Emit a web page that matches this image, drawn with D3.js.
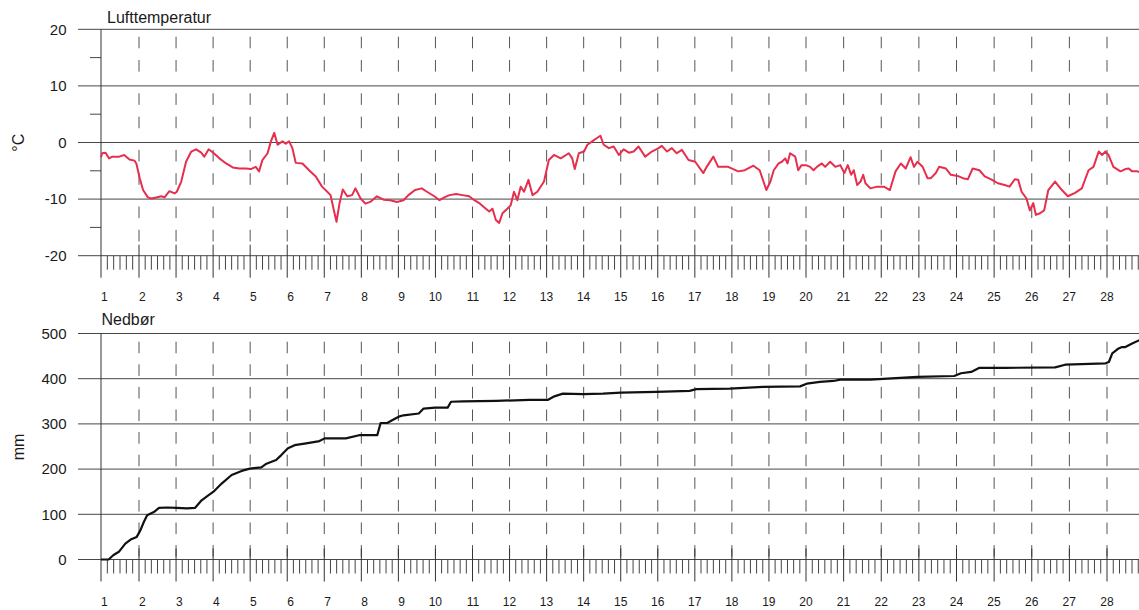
<!DOCTYPE html>
<html>
<head>
<meta charset="utf-8">
<script src="https://cdn.jsdelivr.net/npm/d3@7"></script>
<style>
  html, body { margin: 0; padding: 0; background: #fff; }
  svg { display: block; font-family: "Liberation Sans", Arial, sans-serif; }
</style>
</head>
<body>
<svg id="chart" width="1139" height="610"></svg>
<script>
// ---------- DATA ----------
const dayTicks = [1,2,3,4,5,6,7,8,9,10,11,12,13,14,15,16,17,18,19,20,21,22,23,24,25,26,27,28];
const tempTicks = [-20,-10,0,10,20];
const tempMinorTicks = [-15,-5,5,15];
const precTicks = [0,100,200,300,400,500];

const tempDays = [
  1.00,1.03,1.12,1.21,1.30,1.48,1.61,1.75,1.88,1.93,
  2.02,2.11,2.24,2.33,2.47,2.60,2.69,2.82,2.96,
  3.02,3.14,3.27,3.41,3.54,3.68,3.76,3.88,
  4.02,4.17,4.35,4.53,4.71,4.88,
  5.02,5.15,5.24,5.33,5.47,5.56,5.65,5.74,5.87,5.96,
  6.05,6.14,6.23,6.41,6.59,6.77,6.94,
  7.08,7.17,7.26,7.33,7.41,7.50,7.62,7.75,7.84,7.98,
  8.11,8.24,8.42,8.60,8.78,8.96,
  9.14,9.27,9.45,9.63,9.77,9.97,
  10.11,10.24,10.38,10.56,10.73,10.91,
  11.05,11.18,11.32,11.45,11.54,11.63,11.72,11.81,11.94,
  12.03,12.12,12.21,12.30,12.39,12.51,12.62,12.75,12.93,
  13.06,13.20,13.38,13.60,13.69,13.76,13.87,
  14.01,14.10,14.23,14.36,14.45,14.54,14.68,14.81,14.95,
  15.08,15.22,15.35,15.48,15.66,15.84,
  16.02,16.11,16.25,16.38,16.51,16.65,16.83,
  17.01,17.23,17.32,17.50,17.63,17.90,
  18.17,18.35,18.58,18.75,18.93,
  19.04,19.13,19.26,19.35,19.44,19.50,19.57,19.71,19.79,19.88,
  20.00,20.11,20.20,20.29,20.42,20.51,20.64,20.78,20.91,
  21.02,21.11,21.20,21.27,21.36,21.45,21.52,21.58,21.71,21.89,
  22.07,22.23,22.38,22.52,22.65,22.78,22.87,22.96,
  23.10,23.23,23.32,23.45,23.54,23.72,23.85,
  24.03,24.17,24.30,24.43,24.61,24.75,24.92,
  25.10,25.28,25.41,25.55,25.64,25.73,25.86,25.95,
  26.04,26.11,26.22,26.33,26.44,26.62,26.80,26.96,
  27.15,27.33,27.51,27.64,27.78,27.87,27.96,
  28.04,28.17,28.36,28.49,28.58,28.67,28.81,28.91
];
const tempValues = [
  -2.6,-1.9,-1.8,-2.8,-2.5,-2.5,-2.2,-3.0,-3.2,-3.7,
  -6.3,-8.4,-9.7,-9.9,-9.7,-9.5,-9.7,-8.6,-9.0,
  -8.7,-6.9,-3.4,-1.6,-1.2,-1.8,-2.5,-1.2,
  -1.9,-2.8,-3.7,-4.4,-4.6,-4.6,
  -4.7,-4.3,-5.1,-3.1,-1.9,0.2,1.7,-0.4,0.2,-0.2,
  0.2,-1.0,-3.6,-3.7,-4.9,-6.0,-7.8,
  -8.7,-9.3,-12.0,-14.0,-10.8,-8.3,-9.5,-9.3,-8.1,-9.9,
  -10.8,-10.5,-9.5,-10.1,-10.2,-10.5,
  -10.2,-9.3,-8.4,-8.1,-8.7,-9.5,
  -10.2,-9.7,-9.3,-9.1,-9.3,-9.5,
  -10.2,-10.7,-11.5,-12.2,-11.7,-13.7,-14.2,-12.5,-11.7,
  -11.1,-8.7,-10.2,-7.8,-8.7,-6.6,-9.3,-8.7,-6.9,
  -3.1,-2.2,-2.8,-1.9,-2.8,-4.7,-1.9,
  -1.6,-0.4,0.2,0.8,1.2,-0.4,-1.0,-0.7,-2.2,
  -1.2,-1.8,-1.6,-0.7,-2.5,-1.6,
  -1.0,-0.6,-1.6,-1.0,-1.9,-1.3,-3.1,
  -3.4,-5.4,-4.3,-2.5,-4.3,-4.3,
  -5.1,-4.9,-4.1,-4.9,-8.4,
  -6.9,-4.9,-3.7,-3.4,-2.8,-3.7,-1.9,-2.5,-4.9,-4.0,
  -4.0,-4.3,-4.9,-4.3,-3.7,-4.3,-3.4,-4.3,-4.0,
  -5.4,-4.0,-5.7,-4.9,-7.5,-6.9,-5.7,-7.2,-8.1,-7.8,
  -7.8,-8.4,-5.1,-3.7,-4.6,-2.6,-4.3,-3.4,
  -4.3,-6.3,-6.3,-5.4,-4.3,-4.6,-5.7,
  -5.9,-6.3,-6.5,-4.6,-4.9,-6.0,-6.5,
  -7.2,-7.5,-7.8,-6.5,-6.6,-8.7,-9.9,-12.0,
  -10.7,-12.8,-12.5,-12.0,-8.4,-6.9,-8.4,-9.5,
  -8.9,-8.1,-4.9,-4.3,-1.6,-2.2,-1.6,
  -2.2,-4.3,-5.1,-4.7,-4.6,-5.1,-5.1,-5.3
];

const precDays = [
  1.00,1.20,1.33,1.47,1.64,1.78,1.94,2.04,2.13,2.22,2.40,2.54,2.76,
  3.02,3.29,3.51,3.69,3.87,4.01,4.23,4.50,4.77,4.99,5.30,5.44,5.70,5.84,
  6.02,6.20,6.51,6.87,7.01,7.58,7.94,8.43,8.52,8.70,8.83,9.01,9.14,9.55,9.68,9.99,
  10.33,10.42,10.74,11.64,12.54,13.03,13.21,13.44,13.98,14.52,15.01,15.96,16.86,17.04,17.94,
  18.84,19.84,20.02,20.37,20.73,20.91,21.71,22.96,23.94,24.12,24.39,24.61,25.28,26.62,26.89,
  27.96,28.05,28.14,28.31,28.40,28.49,28.67,28.91
];
const precValues = [
  0,0,10,17,35,44,50,65,83,98,105,114,115,
  114,113,114,131,142,150,168,187,196,201,204,212,220,231,
  246,253,257,262,268,268,275,275,302,302,308,316,319,323,334,336,
  336,349,350,351,353,353,361,367,366,367,369,371,373,377,378,
  382,383,389,393,395,398,398,404,406,412,415,424,424,425,431,
  434,437,456,467,470,470,478,487
];

// ---------- SCALES ----------
const x = d3.scaleLinear().domain([1, 2, 20, 28, 29]).range([101, 139, 806, 1107, 1144.5]);
const yT = d3.scaleLinear().domain([-20, 20]).range([255.7, 29.3]);
const yP = d3.scaleLinear().domain([0, 500]).range([559.5, 333.5]);

const svg = d3.select("#chart");
const gridColor = "#474747";
const W = 1139;
const leftGrid = 78;

function panel(y, ticks, minorTicks, opts) {
  const g = svg.append("g");
  const top = y(ticks[ticks.length - 1]);
  const bottom = y(ticks[0]);

  // horizontal grid lines
  g.selectAll("line.h").data(ticks).join("line")
    .attr("x1", leftGrid).attr("x2", W)
    .attr("y1", d => y(d)).attr("y2", d => y(d))
    .attr("stroke", gridColor).attr("stroke-width", 1);

  // minor y ticks
  g.selectAll("line.my").data(minorTicks).join("line")
    .attr("x1", 90).attr("x2", x(1))
    .attr("y1", d => y(d)).attr("y2", d => y(d))
    .attr("stroke", gridColor).attr("stroke-width", 1);

  // y tick labels
  g.selectAll("text.yl").data(ticks).join("text")
    .attr("x", 66.5).attr("y", d => y(d) + 5.3)
    .attr("text-anchor", "end")
    .attr("font-size", 15).attr("fill", "#1a1a1a")
    .text(d => d);

  // vertical dashed day lines
  g.selectAll("line.v").data(dayTicks.slice(1)).join("line")
    .attr("x1", d => x(d)).attr("x2", d => x(d))
    .attr("y1", top).attr("y2", bottom)
    .attr("stroke", "#555").attr("stroke-width", 1)
    .attr("stroke-dasharray", opts.dash)
    .attr("stroke-dashoffset", opts.dashOffset);

  // y axis line
  g.append("line")
    .attr("x1", x(1)).attr("x2", x(1))
    .attr("y1", top).attr("y2", bottom + 22)
    .attr("stroke", "#333").attr("stroke-width", 1);

  // x axis major ticks
  g.selectAll("line.mx").data(dayTicks.slice(1)).join("line")
    .attr("x1", d => x(d)).attr("x2", d => x(d))
    .attr("y1", bottom - 11).attr("y2", bottom + 22)
    .attr("stroke", "#333").attr("stroke-width", 1);

  // x axis minor ticks (every 4 hours)
  const minor = [];
  for (let d = 1; d < 29; d++) {
    for (let k = 1; k < 6; k++) minor.push(d + k / 6);
  }
  g.selectAll("line.mn").data(minor).join("line")
    .attr("x1", d => x(d)).attr("x2", d => x(d))
    .attr("y1", bottom).attr("y2", bottom + 14)
    .attr("stroke", "#444").attr("stroke-width", 1);

  // day labels
  g.selectAll("text.xl").data(dayTicks).join("text")
    .attr("x", d => x(d) + 6.6).attr("y", bottom + opts.labelDy)
    .attr("text-anchor", "end")
    .attr("font-size", 12).attr("fill", "#1a1a1a")
    .text(d => d);

  // title
  g.append("text")
    .attr("x", opts.titleX).attr("y", opts.titleY)
    .attr("font-size", 16).attr("fill", "#1a1a1a")
    .text(opts.title);

  // unit label
  g.append("text")
    .attr("transform", `translate(${opts.unitX},${opts.unitY}) rotate(-90)`)
    .attr("text-anchor", "middle")
    .attr("font-size", 16).attr("fill", "#1a1a1a")
    .text(opts.unit);

  return g;
}

// Top panel: Lufttemperatur
const uT = yT(10) - yT(20);
panel(yT, tempTicks, tempMinorTicks, {
  dash: [0.205 * uT, 0.207 * uT, 0.205 * uT, 0.383 * uT].join(" "),
  dashOffset: uT - 7.4,
  labelDy: 45.3,
  title: "Lufttemperatur", titleX: 107, titleY: 23,
  unit: "°C", unitX: 23.5, unitY: 142.7
});

// Bottom panel: Nedbør
const uP = yP(0) - yP(100);
panel(yP, precTicks, [], {
  dash: [11.6, uP / 2 - 11.6].join(" "),
  dashOffset: uP / 2 - 8.2,
  labelDy: 46.2,
  title: "Nedbør", titleX: 101.5, titleY: 325,
  unit: "mm", unitX: 23.5, unitY: 447
});

// ---------- LINES ----------
const tempData = tempDays.map((d, i) => [d, tempValues[i]]);
const precData = precDays.map((d, i) => [d, precValues[i]]);

svg.append("path")
  .datum(tempData)
  .attr("fill", "none")
  .attr("stroke", "#e62e4d")
  .attr("stroke-width", 2)
  .attr("stroke-linejoin", "round")
  .attr("d", d3.line().x(d => x(d[0])).y(d => yT(d[1])));

svg.append("path")
  .datum(precData)
  .attr("fill", "none")
  .attr("stroke", "#111")
  .attr("stroke-width", 2.2)
  .attr("stroke-linejoin", "round")
  .attr("d", d3.line().x(d => x(d[0])).y(d => yP(d[1])));
</script>
</body>
</html>
